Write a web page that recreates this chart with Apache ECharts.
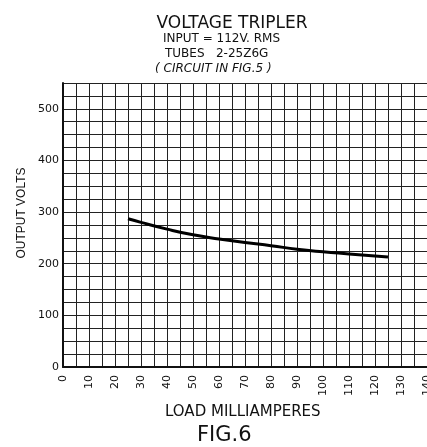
<!DOCTYPE html>
<html><head><meta charset="utf-8">
<script src="https://cdn.jsdelivr.net/npm/echarts@6/dist/echarts.min.js"></script>
<style>html,body{margin:0;padding:0;background:#fff}#c{width:427px;height:447px}</style>
</head><body><div id="c"></div>
<script>
const loadMA = [25, 30, 40, 50, 60, 70, 80, 90, 100, 110, 120, 125];
const outputVolts = [287, 280, 267, 256, 248, 241, 235, 228, 223, 219, 215, 213];
const titleText = 'VOLTAGE TRIPLER';
const subLines = ['INPUT = 112V. RMS', 'TUBES   2-25Z6G', '( CIRCUIT IN FIG.5 )'];
const xName = 'LOAD MILLIAMPERES';
const figText = 'FIG.6';
const yName = 'OUTPUT VOLTS';

const F = '"DejaVu Sans", sans-serif';
const chart = echarts.init(document.getElementById('c'));
chart.setOption({
  animation: false,
  backgroundColor: '#fff',
  grid: {left: 63, right: 0, top: 83, bottom: 80, outerBoundsMode: 'none', containLabel: false},
  title: [
    {text: titleText, left: 227, top: 10, textAlign: 'center',
     textStyle: {fontFamily: F, fontSize: 17, fontWeight: 'normal', color: '#111'}}
  ],
  graphic: [
    {type: 'text', left: 163, top: 33, style: {text: subLines[0], font: '12px ' + F, fill: '#111'}},
    {type: 'text', left: 165, top: 48, style: {text: subLines[1], font: '12px ' + F, fill: '#111'}},
    {type: 'text', left: 155, top: 63, style: {text: subLines[2], font: 'italic 12px ' + F, fill: '#111'}},
    {type: 'text', left: 165, top: 405, style: {text: xName, font: '15px ' + F, fill: '#111'}},
    {type: 'text', left: 197, top: 425, style: {text: figText, font: '21px ' + F, fill: '#111'}},
    {type: 'text', x: 22, y: 213, rotation: Math.PI / 2,
     style: {text: yName, font: '12px "Liberation Sans", sans-serif', fill: '#111', align: 'center', verticalAlign: 'middle'}}
  ],
  xAxis: {
    type: 'value', min: 0, max: 140, interval: 5,
    axisLine: {show: true, onZero: false, lineStyle: {color: '#111', width: 2}},
    axisTick: {show: false},
    splitLine: {show: true, lineStyle: {color: '#222', width: 1}},
    axisLabel: {rotate: 90, margin: 8, fontFamily: F, fontSize: 11, color: '#111',
      formatter: v => (v % 10 === 0 ? String(v) : '')}
  },
  yAxis: {
    type: 'value', min: 0, max: 550, interval: 25,
    axisLine: {show: true, lineStyle: {color: '#111', width: 2}},
    axisTick: {show: false},
    splitLine: {show: true, lineStyle: {color: '#222', width: 1}},
    axisLabel: {margin: 4, fontFamily: F, fontSize: 11, color: '#111', showMaxLabel: false,
      formatter: v => (v % 100 === 0 && v <= 500 ? String(v) : '')}
  },
  series: [{
    type: 'line', smooth: true, symbol: 'none',
    data: loadMA.map((x, i) => [x, outputVolts[i]]),
    lineStyle: {color: '#000', width: 3}
  }]
});
</script></body></html>
